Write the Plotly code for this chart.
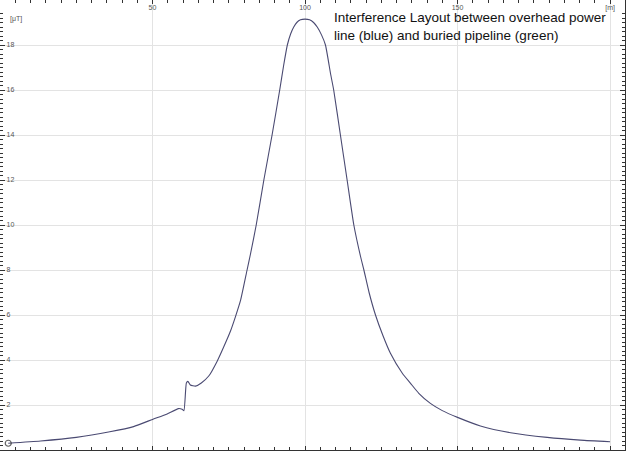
import plotly.graph_objects as go

# distance along the profile [m] and magnetic flux density [uT]
distance_m = [2.7, 13.3, 25, 36, 43.8, 50, 54.8, 58.5, 59.7, 60.3, 61.1, 61.6, 62.4,
              64.1, 66, 68.5, 71.2, 73.4, 75.6, 77.2, 78.9, 81, 82.1, 84, 86.5, 89.2,
              91.7, 93, 94.2, 95.3, 96.3, 97.3, 98.5, 100, 101.5, 102.8, 104, 105.4,
              106.7, 108.4, 109.4, 111.6, 113.8, 116, 118.2, 119.3, 121, 123.1, 125.5,
              128, 131.9, 134.6, 137.3, 141.1, 145, 150, 157.5, 167.4, 179.4, 190.3, 200]
flux_uT = [0.30, 0.40, 0.56, 0.81, 1.04, 1.36, 1.60, 1.84, 1.81, 1.75, 2.98, 3.05,
           2.89, 2.84, 2.98, 3.30, 3.95, 4.60, 5.30, 5.93, 6.67, 8.0, 8.7, 10.0, 12.0,
           14.0, 16.0, 17.1, 18.0, 18.5, 18.8, 19.0, 19.12, 19.15, 19.12, 19.0, 18.8,
           18.45, 18.0, 16.7, 16.0, 14.0, 12.0, 10.0, 8.6, 8.0, 7.0, 6.0, 5.1, 4.3, 3.41,
           2.96, 2.52, 2.07, 1.75, 1.45, 1.07, 0.77, 0.56, 0.44, 0.37]

x_ticks = [50, 100, 150, 200]
x_labels = ["50", "100", "150", "[m]"]
y_ticks = [2, 4, 6, 8, 10, 12, 14, 16, 18]

title_lines = ["Interference Layout between overhead power",
               "line (blue) and buried pipeline (green)"]

W, H = 627, 451
axis_col = "#333333"
label_font = dict(family="Liberation Sans", size=7, color="#555555")

marker_sizes = [6] + [0] * (len(distance_m) - 1)

fig = go.Figure()
fig.add_trace(go.Scatter(
    x=distance_m, y=flux_uT,
    mode="lines+markers",
    line=dict(color="#4a4a72", width=1.1, shape="spline", smoothing=0.5),
    marker=dict(size=marker_sizes, symbol="circle-open", color="#222222",
                line=dict(width=1.2)),
    cliponaxis=False,
    hoverinfo="x+y",
))

fig.update_xaxes(
    range=[0, 204.9], side="top", automargin=False,
    tickvals=x_ticks, ticktext=x_labels,
    ticks="inside", ticklen=4, tickcolor=axis_col, tickwidth=1,
    ticklabelposition="inside", tickfont=label_font,
    showline=True, linecolor=axis_col, linewidth=1, mirror="allticks",
    showgrid=True, gridcolor="#e3e3e3", gridwidth=1, zeroline=False,
    minor=dict(dtick=5, ticks="inside", ticklen=3, tickcolor=axis_col, showgrid=False),
)
fig.update_yaxes(
    range=[0, 20], automargin=False,
    tickvals=y_ticks,
    ticks="inside", ticklen=5, tickcolor=axis_col, tickwidth=1,
    ticklabelposition="inside", tickfont=label_font,
    showline=True, linecolor=axis_col, linewidth=1, mirror="allticks",
    showgrid=True, gridcolor="#e3e3e3", gridwidth=1, zeroline=False,
    minor=dict(dtick=0.2, ticks="inside", ticklen=3, tickcolor=axis_col, showgrid=False),
)

# unit label on the y axis
fig.add_annotation(
    text="[μT]", xref="paper", yref="paper", x=8 / 625, y=1 - 19 / 450,
    xanchor="left", yanchor="middle", showarrow=False, font=label_font,
)

fig.add_annotation(
    text="<br>".join(title_lines), xref="paper", yref="paper",
    x=332 / 625, y=1 - 8 / 450, xanchor="left", yanchor="top", align="left",
    showarrow=False,
    font=dict(family="Liberation Sans", size=13.5, color="#111111"),
)

fig.update_layout(
    width=W, height=H,
    margin=dict(l=0, r=2, t=0, b=1),
    plot_bgcolor="white", paper_bgcolor="white",
    showlegend=False,
)

# drop the browser's default 8px body margin so the plot fills the window
fig.write_html("out.html", config={"displayModeBar": False},
               post_script="document.body.style.margin='0';")
